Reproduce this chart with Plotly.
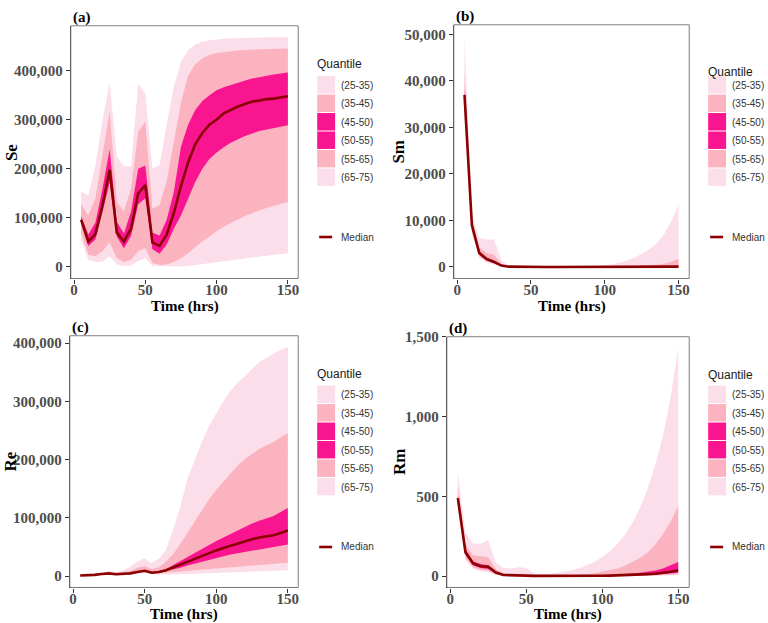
import plotly.graph_objects as go

# ---------------- data ----------------
time_hrs = [5, 10, 15, 20, 25, 30, 35, 40, 45, 50, 55, 60, 65, 70, 75,
            80, 85, 90, 95, 100, 105, 110, 115, 120, 125, 130, 135, 140, 145, 150]

# (a) Se  (values in thousands)
se_q25 = [55, 15, 10, 11, 22, 5, 2, 3, 12, 18, 2, 1, 1, 1, 1, 2, 3, 5, 7, 9, 11, 13, 15, 17, 19, 21, 23, 25, 27, 28]
se_q35 = [68, 25, 22, 32, 50, 18, 10, 15, 32, 38, 8, 4, 5, 10, 18, 28, 40, 52, 63, 73, 82, 90, 97, 104, 110, 115, 120, 125, 129, 133]
se_q45 = [90, 43, 56, 112, 172, 62, 38, 63, 128, 140, 36, 27, 46, 78, 105, 140, 173, 200, 220, 233, 244, 253, 260, 267, 272, 277, 280, 283, 286, 289]
se_q50 = [96, 52, 67, 126, 198, 70, 52, 78, 150, 167, 50, 43, 66, 110, 165, 213, 250, 273, 290, 300, 313, 320, 327, 332, 337, 339, 342, 343, 345, 348]
se_q55 = [104, 66, 90, 160, 240, 92, 68, 113, 200, 207, 70, 64, 96, 153, 245, 290, 320, 338, 350, 360, 366, 371, 376, 380, 384, 387, 390, 392, 394, 396]
se_q65 = [127, 105, 140, 233, 318, 133, 113, 160, 276, 296, 119, 126, 175, 255, 335, 390, 413, 425, 432, 436, 438, 440, 441, 442, 443, 443, 444, 444, 445, 445]
se_q75 = [155, 145, 206, 300, 376, 225, 205, 205, 373, 353, 200, 208, 290, 367, 418, 442, 453, 459, 462, 464, 465, 466, 466, 467, 467, 467, 468, 468, 468, 468]

# (b) Sm
sm_q25 = [32000, 7000, 2000, 900, 500, 100, 15, 5, 2, 1, 1, 0, 0, 0, 0, 0, 0, 0, 0, 0, 0, 0, 1, 1, 1, 2, 2, 3, 4, 5]
sm_q35 = [34000, 7600, 2300, 1200, 700, 150, 25, 8, 4, 2, 1, 1, 1, 1, 1, 1, 1, 1, 1, 1, 1, 1, 2, 2, 3, 4, 5, 7, 10, 14]
sm_q45 = [35500, 8300, 2600, 1400, 850, 200, 40, 12, 6, 3, 2, 1, 1, 1, 1, 1, 1, 1, 1, 2, 2, 3, 3, 4, 5, 7, 10, 14, 20, 30]
sm_q50 = [37000, 9000, 3000, 1700, 1100, 300, 60, 20, 10, 5, 3, 2, 2, 2, 2, 2, 2, 2, 2, 3, 4, 5, 6, 8, 10, 14, 20, 30, 50, 80]
sm_q55 = [38500, 9500, 3400, 2000, 1400, 400, 80, 30, 15, 8, 5, 3, 3, 3, 3, 3, 3, 4, 5, 6, 8, 10, 14, 20, 28, 40, 60, 90, 140, 200]
sm_q65 = [42000, 10200, 4200, 3000, 2600, 600, 130, 50, 25, 15, 10, 8, 8, 8, 8, 8, 10, 12, 15, 20, 35, 60, 100, 150, 220, 320, 450, 700, 1100, 1700]
sm_q75 = [49600, 11200, 6300, 5900, 5900, 1400, 250, 100, 60, 40, 30, 25, 25, 30, 40, 60, 90, 130, 200, 350, 600, 900, 1400, 2000, 2800, 3750, 5000, 6900, 9700, 13300]

# (c) Re  (values in thousands)
re_q25 = [0.5, 0.5, 1, 2, 3, 2, 2, 3, 4, 5, 3, 3, 2, 2, 2.5, 3, 3.5, 4, 4.5, 5, 5.5, 6, 6.5, 7, 7.5, 8, 8.5, 9, 9.5, 10]
re_q35 = [0.8, 0.8, 1.5, 3, 4, 2.5, 3, 4, 5.5, 7, 4, 4.5, 5, 6, 7, 9, 10, 11, 12, 13, 14, 15, 16, 17, 18, 19, 20, 21, 22, 23]
re_q45 = [0.9, 0.9, 1.8, 3.3, 4.3, 2.8, 3.3, 4.3, 6.5, 8.5, 5.2, 6, 8, 11, 14, 18, 22, 25, 28, 31, 34, 37, 40, 42, 44, 46, 48, 50, 52, 54]
re_q50 = [1, 1, 2, 3.5, 4.5, 3, 3.5, 4.5, 7, 9, 5.6, 6.8, 10, 15, 20, 25, 30, 35, 40, 44, 48, 52, 56, 60, 63, 66, 68, 70, 74, 78]
re_q55 = [1.1, 1.1, 2.2, 3.8, 4.8, 3.3, 3.8, 5, 8, 10, 6.5, 8, 12, 19, 26, 33, 40, 47, 54, 60, 66, 72, 79, 85, 90, 95, 99, 103, 110, 117]
re_q65 = [1.5, 1.5, 2.5, 4, 6, 5, 6, 9, 14, 17, 12, 15, 25, 38, 55, 74, 94, 114, 132, 148, 162, 176, 190, 201, 210, 218, 224, 230, 238, 245]
re_q75 = [2, 2, 3, 5, 8, 7, 10, 16, 25, 30, 22, 30, 45, 80, 120, 168, 200, 230, 258, 280, 300, 318, 332, 343, 356, 367, 375, 382, 388, 393]

# (d) Rm
rm_q25 = [420, 100, 45, 30, 25, 7, 2, 1, 0.5, 0.5, 0.2, 0.1, 0.1, 0.1, 0.1, 0.1, 0.1, 0.1, 0.2, 0.3, 0.4, 0.5, 0.7, 1, 1.5, 2, 2.5, 3, 4, 6]
rm_q35 = [445, 115, 55, 38, 33, 10, 3, 2, 1, 1, 0.3, 0.2, 0.2, 0.2, 0.2, 0.2, 0.2, 0.3, 0.4, 0.5, 0.7, 1, 1.3, 2, 2.5, 3.5, 4.5, 6, 9, 12]
rm_q45 = [470, 135, 68, 50, 45, 16, 5, 3, 2, 1.5, 0.5, 0.4, 0.3, 0.3, 0.3, 0.4, 0.5, 0.6, 0.8, 1, 1.3, 1.7, 2.2, 3, 4, 6, 8, 12, 15, 20]
rm_q50 = [489, 150, 80, 62, 58, 22, 7, 4, 3, 2.5, 1, 0.7, 0.6, 0.6, 0.6, 0.7, 0.8, 1, 1.5, 2, 3, 4, 5, 6, 9, 12, 15, 20, 27, 37]
rm_q55 = [505, 168, 92, 75, 68, 28, 9, 6, 5, 4, 1.5, 1, 1, 1, 1, 1, 1.5, 2, 3, 4, 6, 8, 11, 16, 20, 27, 35, 47, 65, 88]
rm_q65 = [560, 200, 130, 122, 118, 45, 15, 10, 10, 8, 3, 2, 2, 3, 3, 4, 6, 12, 18, 27, 36, 47, 65, 88, 115, 150, 200, 263, 340, 438]
rm_q75 = [654, 273, 205, 203, 226, 85, 50, 48, 55, 51, 18, 12, 14, 20, 27, 37, 50, 68, 90, 119, 155, 201, 260, 335, 430, 551, 700, 880, 1120, 1430]

quantile_labels = ["(25-35)", "(35-45)", "(45-50)", "(50-55)", "(55-65)", "(65-75)"]
panel_tags = ["(a)", "(b)", "(c)", "(d)"]
y_titles = ["Se", "Sm", "Re", "Rm"]
x_title = "Time (hrs)"
x_ticks = [0, 50, 100, 150]
y_ticks_a = [0, 100000, 200000, 300000, 400000]
y_ticks_b = [0, 10000, 20000, 30000, 40000, 50000]
y_ticks_c = [0, 100000, 200000, 300000, 400000]
y_ticks_d = [0, 500, 1000, 1500]

# ---------------- styling ----------------
W, H = 768, 623
LIGHT = "#FCDDEA"
MID = "#FBB4BF"
DARK = "#FA1590"
MEDIAN = "#8B0000"
band_colors = [LIGHT, MID, DARK, DARK, MID, LIGHT]
SERIF = "Liberation Serif"
SANS = "Liberation Sans"


def px_x(v):
    return v / W


def px_y(v):
    return 1 - v / H


fig = go.Figure()

panels = [
    dict(q=[se_q25, se_q35, se_q45, se_q50, se_q55, se_q65, se_q75], scale=1000, yt=y_ticks_a,
         xdom=(70, 298), ydom=(18, 274), yr=(-23400, 491400),
         leg_x=317, leg_title_y=57, leg_top=69, leg_med_y=232,
         xt_y=302, yt_x=10),
    dict(q=[sm_q25, sm_q35, sm_q45, sm_q50, sm_q55, sm_q65, sm_q75], scale=1, yt=y_ticks_b,
         xdom=(454, 690), ydom=(17, 274), yr=(-2480, 52080),
         leg_x=709, leg_title_y=65, leg_top=69, leg_med_y=232,
         xt_y=302, yt_x=399),
    dict(q=[re_q25, re_q35, re_q45, re_q50, re_q55, re_q65, re_q75], scale=1000, yt=y_ticks_c,
         xdom=(69, 298), ydom=(332, 587), yr=(-19650, 412650),
         leg_x=317, leg_title_y=371, leg_top=382.5, leg_med_y=546,
         xt_y=614, yt_x=10),
    dict(q=[rm_q25, rm_q35, rm_q45, rm_q50, rm_q55, rm_q65, rm_q75], scale=1, yt=y_ticks_d,
         xdom=(447, 690), ydom=(333, 587), yr=(-71.5, 1501.5),
         leg_x=709, leg_title_y=372, leg_top=382.5, leg_med_y=546,
         xt_y=614, yt_x=399),
]

annotations = []
shapes = []

for i, p in enumerate(panels):
    n = "" if i == 0 else str(i + 1)
    xa, ya = "x" + n, "y" + n
    q = [[v * p["scale"] for v in arr] for arr in p["q"]]
    q25, q35, q45, q50, q55, q65, q75 = q
    # nested bands: 25-75 light, 35-65 mid, 45-55 dark
    for lo, hi, col in [(q25, q75, LIGHT), (q35, q65, MID), (q45, q55, DARK)]:
        fig.add_trace(go.Scatter(
            x=time_hrs + time_hrs[::-1], y=hi + lo[::-1],
            fill="toself", fillcolor=col, mode="lines", line=dict(width=0, color=col),
            hoverinfo="skip", showlegend=False, xaxis=xa, yaxis=ya))
    fig.add_trace(go.Scatter(
        x=time_hrs, y=q50, mode="lines", line=dict(color=MEDIAN, width=2.6),
        name="Median", showlegend=False, xaxis=xa, yaxis=ya))

    x0, x1 = p["xdom"]
    y0, y1 = p["ydom"]
    axis_common = dict(
        showgrid=False, zeroline=False, showline=True, linecolor="#222222", linewidth=1.2,
        ticks="outside", ticklen=4, tickwidth=1, tickcolor="#333333",
        tickfont=dict(family=SERIF, size=15, color="#4D4D4D", weight="bold"),
    )
    fig.layout["xaxis" + n] = dict(
        domain=[px_x(x0), px_x(x1)], anchor=ya, range=[-2.25, 157.25],
        tickvals=x_ticks, ticklabelstandoff=-7, **axis_common,
    )
    fig.layout["yaxis" + n] = dict(
        domain=[px_y(y1), px_y(y0)], anchor=xa, range=list(p["yr"]),
        tickvals=p["yt"], tickformat=",d", **axis_common,
    )
    # axis titles
    annotations.append(dict(text="<b>" + x_title + "</b>", xref="paper", yref="paper",
                            x=px_x((x0 + x1) / 2), y=px_y(p["xt_y"]), xanchor="center", yanchor="middle",
                            showarrow=False, font=dict(family=SERIF, size=15, color="black")))
    annotations.append(dict(text="<b>" + y_titles[i] + "</b>", xref="paper", yref="paper",
                            x=px_x(p["yt_x"]), y=px_y((y0 + y1) / 2), xanchor="center", yanchor="middle",
                            textangle=-90, showarrow=False,
                            font=dict(family=SERIF, size=17, color="black")))
    # panel border
    shapes.append(dict(type="rect", xref=xa + " domain", yref=ya + " domain",
                       x0=0, x1=1, y0=0, y1=1, line=dict(color="#7F7F7F", width=1),
                       layer="above"))
    # panel tag
    annotations.append(dict(text="<b>" + panel_tags[i] + "</b>", xref="paper", yref="paper",
                            x=px_x(x0), y=px_y(y0 - 8), xanchor="left", yanchor="middle",
                            showarrow=False, font=dict(family=SERIF, size=15, color="black")))
    # manual legend
    lx = p["leg_x"]
    annotations.append(dict(text="Quantile", xref="paper", yref="paper",
                            x=px_x(lx - 2), y=px_y(p["leg_title_y"]), xanchor="left", yanchor="middle",
                            showarrow=False, font=dict(family=SANS, size=12, color="#1A1A1A")))
    step = 18.7
    for k, lab in enumerate(quantile_labels):
        top = p["leg_top"] + k * step
        shapes.append(dict(type="rect", xref="paper", yref="paper",
                           x0=px_x(lx), x1=px_x(lx + 18), y0=px_y(top + step - 1), y1=px_y(top),
                           fillcolor=band_colors[k], line=dict(width=0)))
        annotations.append(dict(text=lab, xref="paper", yref="paper",
                                x=px_x(lx + 22), y=px_y(top + step / 2), xanchor="left", yanchor="middle",
                                showarrow=False, font=dict(family=SANS, size=10, color="#333333")))
    shapes.append(dict(type="line", xref="paper", yref="paper",
                       x0=px_x(lx + 2), x1=px_x(lx + 15), y0=px_y(p["leg_med_y"]), y1=px_y(p["leg_med_y"]),
                       line=dict(color=MEDIAN, width=2.6)))
    annotations.append(dict(text="Median", xref="paper", yref="paper",
                            x=px_x(lx + 22), y=px_y(p["leg_med_y"]), xanchor="left", yanchor="middle",
                            showarrow=False, font=dict(family=SANS, size=10, color="#333333")))

fig.update_layout(
    width=W, height=H, margin=dict(l=0, r=0, t=0, b=0),
    paper_bgcolor="white", plot_bgcolor="white",
    showlegend=False, annotations=annotations, shapes=shapes,
)

fig.write_html("out.html")
